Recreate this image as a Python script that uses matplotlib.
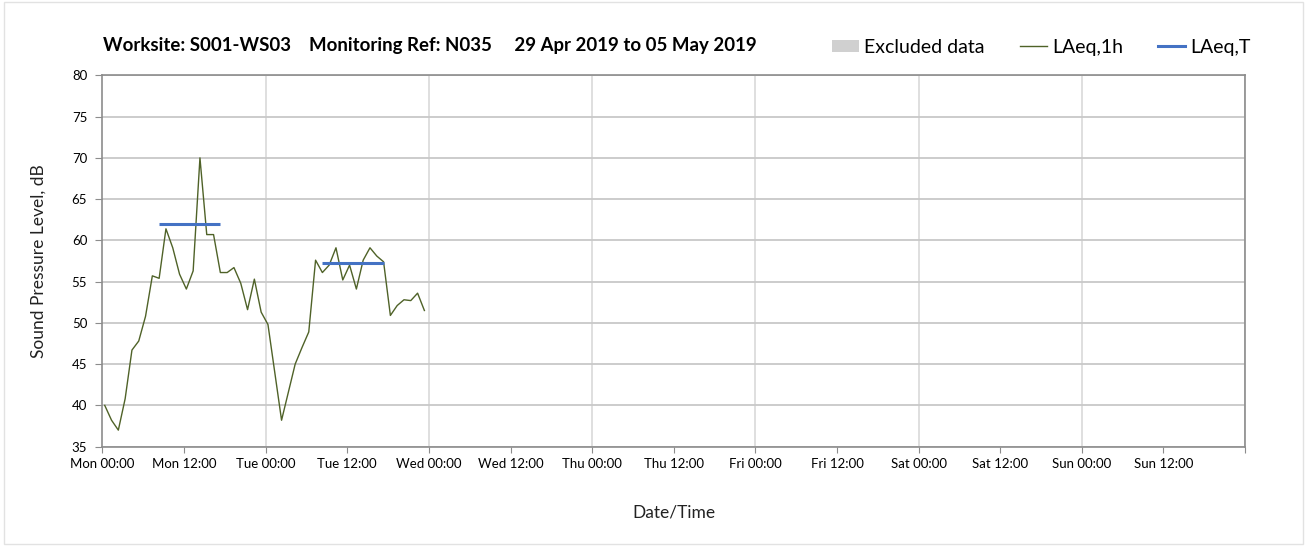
import numpy as np
import pandas as pd
import matplotlib
matplotlib.use('Agg')
import matplotlib.pyplot as plt
from matplotlib.patches import Patch, Rectangle
from matplotlib.lines import Line2D

plt.rcParams['font.family'] = ['Lato', 'DejaVu Sans']

# Hourly LAeq,1h values (dB), starting Mon 29 Apr 2019 00:20
laeq_1h = [40.0, 38.2, 37.0, 40.8, 46.7, 47.8, 50.8, 55.7, 55.4, 61.4,
           59.1, 55.9, 54.1, 56.3, 70.0, 60.7, 60.7, 56.1, 56.1, 56.7,
           54.8, 51.6, 55.3, 51.3, 49.8, 44.0, 38.2, 41.6, 45.0, 47.0,
           48.9, 57.6, 56.1, 57.0, 59.1, 55.2, 57.0, 54.1, 57.6, 59.1,
           58.1, 57.4, 50.9, 52.1, 52.8, 52.7, 53.6, 51.5]
times_1h = pd.date_range('2019-04-29 00:20', periods=len(laeq_1h), freq='h')

# LAeq,T daytime periods
laeq_t_start = ['2019-04-29 08:20', '2019-04-30 08:20']
laeq_t_end = ['2019-04-29 17:20', '2019-04-30 17:20']
laeq_t = [62.0, 57.2]

tick_labels = ['Mon 00:00', 'Mon 12:00', 'Tue 00:00', 'Tue 12:00', 'Wed 00:00',
               'Wed 12:00', 'Thu 00:00', 'Thu 12:00', 'Fri 00:00', 'Fri 12:00',
               'Sat 00:00', 'Sat 12:00', 'Sun 00:00', 'Sun 12:00', '']

title = 'Worksite: S001-WS03    Monitoring Ref: N035     29 Apr 2019 to 05 May 2019'

green = '#4f6228'
blue = '#4472c4'
axis_grey = '#8c8c8c'

fig = plt.figure(figsize=(13.07, 5.46), dpi=100)
ax = fig.add_axes([0.0784, 0.182, 0.8742, 0.680])

# light frame round the whole chart
fig.patches.append(Rectangle((0.003, 0.003), 0.994, 0.994, transform=fig.transFigure,
                             fill=False, edgecolor='#e2e2e2', linewidth=1))

ax.plot(times_1h, laeq_1h, color=green, linewidth=1.0)
for s, e, v in zip(laeq_t_start, laeq_t_end, laeq_t):
    ax.plot([pd.Timestamp(s), pd.Timestamp(e)], [v, v], color=blue, linewidth=2.2,
            solid_capstyle='butt')

x0 = pd.Timestamp('2019-04-29 00:00')
x1 = pd.Timestamp('2019-05-06 00:00')
ax.set_xlim(x0, x1)
ax.set_ylim(35, 80)

ticks = pd.date_range(x0, x1, freq='12h')
ax.set_xticks(ticks)
ax.set_xticklabels(tick_labels, fontsize=9.5)
ax.set_yticks(np.arange(35, 81, 5))
ax.tick_params(axis='y', labelsize=9.5, length=5, color=axis_grey, pad=6)
ax.tick_params(axis='x', length=4, color=axis_grey, pad=4)

# gridlines: horizontal every 5 dB, vertical at each midnight
ax.grid(axis='y', color='#c8c8c8', linewidth=1.3)
for d in pd.date_range(x0, x1, freq='D')[1:]:
    ax.axvline(d, color='#dcdcdc', linewidth=1.3, zorder=0)
ax.set_axisbelow(True)

for spine in ax.spines.values():
    spine.set_color(axis_grey)
    spine.set_linewidth(1.2)

ax.set_ylabel('Sound Pressure Level, dB', fontsize=12.5, color='#222222', labelpad=18)
ax.set_xlabel('Date/Time', fontsize=12.5, color='#222222', labelpad=25)

fig.text(0.079, 0.917, title, fontsize=13.4, fontweight='bold', va='center', ha='left')

handles = [Patch(facecolor='#d0d0d0', edgecolor='none'),
           Line2D([], [], color=green, linewidth=1.0),
           Line2D([], [], color=blue, linewidth=2.2)]
fig.legend(handles, ['Excluded data', 'LAeq,1h', 'LAeq,T'], ncol=3, frameon=False,
           loc='center right', bbox_to_anchor=(0.970, 0.913), fontsize=14,
           handlelength=1.4, handleheight=0.6, handletextpad=0.25, columnspacing=1.8)

fig.savefig('out.png', dpi=100)
